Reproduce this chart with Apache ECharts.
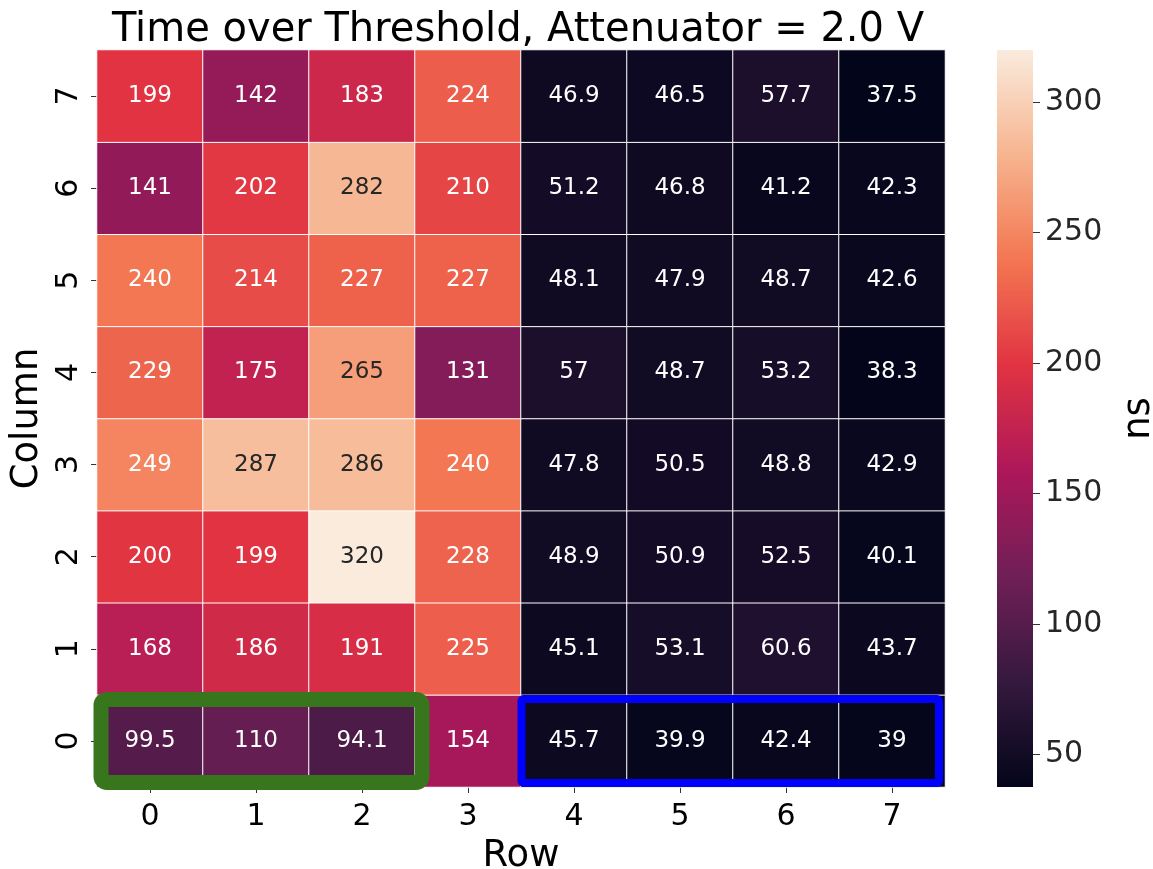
<!DOCTYPE html>
<html>
<head>
<meta charset="utf-8">
<script src="https://cdn.jsdelivr.net/npm/echarts@6/dist/echarts.min.js"></script>
<style>html,body{margin:0;padding:0;background:#fff}#c{width:1153px;height:869px}</style>
</head>
<body>
<div id="c"></div>
<script>
const rowLabels = ['0','1','2','3','4','5','6','7'];      // x axis (Row)
const columnLabels = ['0','1','2','3','4','5','6','7'];   // y axis (Column), bottom to top
// values[columnIndex][rowIndex]
const col0 = [99.5, 110, 94.1, 154, 45.7, 39.9, 42.4, 39];
const col1 = [168, 186, 191, 225, 45.1, 53.1, 60.6, 43.7];
const col2 = [200, 199, 320, 228, 48.9, 50.9, 52.5, 40.1];
const col3 = [249, 287, 286, 240, 47.8, 50.5, 48.8, 42.9];
const col4 = [229, 175, 265, 131, 57, 48.7, 53.2, 38.3];
const col5 = [240, 214, 227, 227, 48.1, 47.9, 48.7, 42.6];
const col6 = [141, 202, 282, 210, 51.2, 46.8, 41.2, 42.3];
const col7 = [199, 142, 183, 224, 46.9, 46.5, 57.7, 37.5];
const columns = [col0, col1, col2, col3, col4, col5, col6, col7];
const colorMin = 37.5;
const colorMax = 320;
const colorbarTicks = [50, 100, 150, 200, 250, 300];
const rocket = ['#03051a','#35193e','#701f57','#ad1759','#e13342','#f37651','#f6b48f','#faebdd'];
const darkTextAbove = 255;

const FONT = 'DejaVu Sans';
const data = [];
columns.forEach((arr, yi) => arr.forEach((v, xi) => {
  data.push({ value: [xi, yi, v], label: { color: v > darkTextAbove ? '#262626' : '#ffffff' } });
}));

const chart = echarts.init(document.getElementById('c'));
const tickStyle = { show: true, length: 6, alignWithLabel: true, lineStyle: { color: '#333', width: 1 } };
chart.setOption({
  animation: false,
  backgroundColor: '#fff',
  title: {
    text: 'Time over Threshold, Attenuator = 2.0 V',
    left: 513, textAlign: 'center', top: 6,
    textStyle: { fontFamily: FONT, fontSize: 40, fontWeight: 'normal', color: '#000' }
  },
  grid: [
    { left: 97, right: 208, top: 50, bottom: 82, containLabel: false, outerBoundsMode: 'none' },
    { left: 997, right: 120, top: 50, bottom: 82, containLabel: false, outerBoundsMode: 'none' }
  ],
  xAxis: [
    {
      type: 'category', gridIndex: 0, data: rowLabels, position: 'bottom',
      axisLine: { show: false }, axisTick: tickStyle, splitLine: { show: false },
      axisLabel: { fontFamily: FONT, fontSize: 30, color: '#000', margin: 15 },
      name: 'Row', nameLocation: 'middle', nameGap: 51,
      nameTextStyle: { fontFamily: FONT, fontSize: 37, color: '#000' }
    },
    { type: 'category', gridIndex: 1, data: ['cb'], show: false }
  ],
  yAxis: [
    {
      type: 'category', gridIndex: 0, data: columnLabels,
      axisLine: { show: false }, axisTick: tickStyle, splitLine: { show: false },
      axisLabel: { fontFamily: FONT, fontSize: 30, color: '#000', rotate: 90, margin: 13 },
      name: 'Column', nameLocation: 'middle', nameGap: 47, nameRotate: 90,
      nameTextStyle: { fontFamily: FONT, fontSize: 37, color: '#000' }
    },
    {
      type: 'value', gridIndex: 1, position: 'right', min: colorMin, max: colorMax,
      axisLine: { show: false }, splitLine: { show: false },
      axisTick: { show: true, length: 7, customValues: colorbarTicks, lineStyle: { color: '#333' } },
      axisLabel: { fontFamily: FONT, fontSize: 30, color: '#262626', margin: 12, customValues: colorbarTicks },
      name: 'ns', nameLocation: 'middle', nameGap: 88, nameRotate: 90,
      nameTextStyle: { fontFamily: FONT, fontSize: 37, color: '#000' }
    }
  ],
  visualMap: {
    type: 'continuous', show: false, min: colorMin, max: colorMax, seriesIndex: 0,
    inRange: { color: rocket }
  },
  series: [
    {
      type: 'heatmap', xAxisIndex: 0, yAxisIndex: 0, data: data,
      itemStyle: { borderColor: '#ffffff', borderWidth: 1 },
      label: { show: true, fontFamily: FONT, fontSize: 23, formatter: p => String(p.value[2]) },
      emphasis: { disabled: true }
    },
    {
      type: 'bar', xAxisIndex: 1, yAxisIndex: 1, data: [colorMax], barWidth: '100%',
      itemStyle: {
        color: new echarts.graphic.LinearGradient(0, 0, 0, 1,
          rocket.slice().reverse().map((c, i) => ({ offset: i / (rocket.length - 1), color: c })))
      },
      silent: true
    }
  ]
});

// annotation boxes around cell blocks, computed from the axes
function cellBox(x0, x1, y) {
  const a = chart.convertToPixel({ gridIndex: 0 }, [x0, y]);
  const b = chart.convertToPixel({ gridIndex: 0 }, [x1, y]);
  const w = (chart.convertToPixel({ gridIndex: 0 }, [1, 0])[0] - chart.convertToPixel({ gridIndex: 0 }, [0, 0])[0]);
  const h = (chart.convertToPixel({ gridIndex: 0 }, [0, 0])[1] - chart.convertToPixel({ gridIndex: 0 }, [0, 1])[1]);
  return { left: a[0] - w / 2, right: b[0] + w / 2, top: a[1] - h / 2, bottom: a[1] + h / 2 };
}
const g = cellBox(0, 2, 0);
const bl = cellBox(4, 7, 0);
chart.setOption({
  graphic: [
    { type: 'rect', z: 100,
      shape: { x: g.left + 4, y: g.top + 4.5, width: (g.right + 7) - (g.left + 4), height: (g.bottom - 4.5) - (g.top + 4.5), r: 6 },
      style: { fill: null, stroke: '#38761d', lineWidth: 15 } },
    { type: 'rect', z: 100,
      shape: { x: bl.left + 0.5, y: bl.top + 4, width: (bl.right - 6) - (bl.left + 0.5), height: (bl.bottom - 4) - (bl.top + 4), r: 2 },
      style: { fill: null, stroke: '#0000ff', lineWidth: 8 } }
  ]
});
</script>
</body>
</html>
